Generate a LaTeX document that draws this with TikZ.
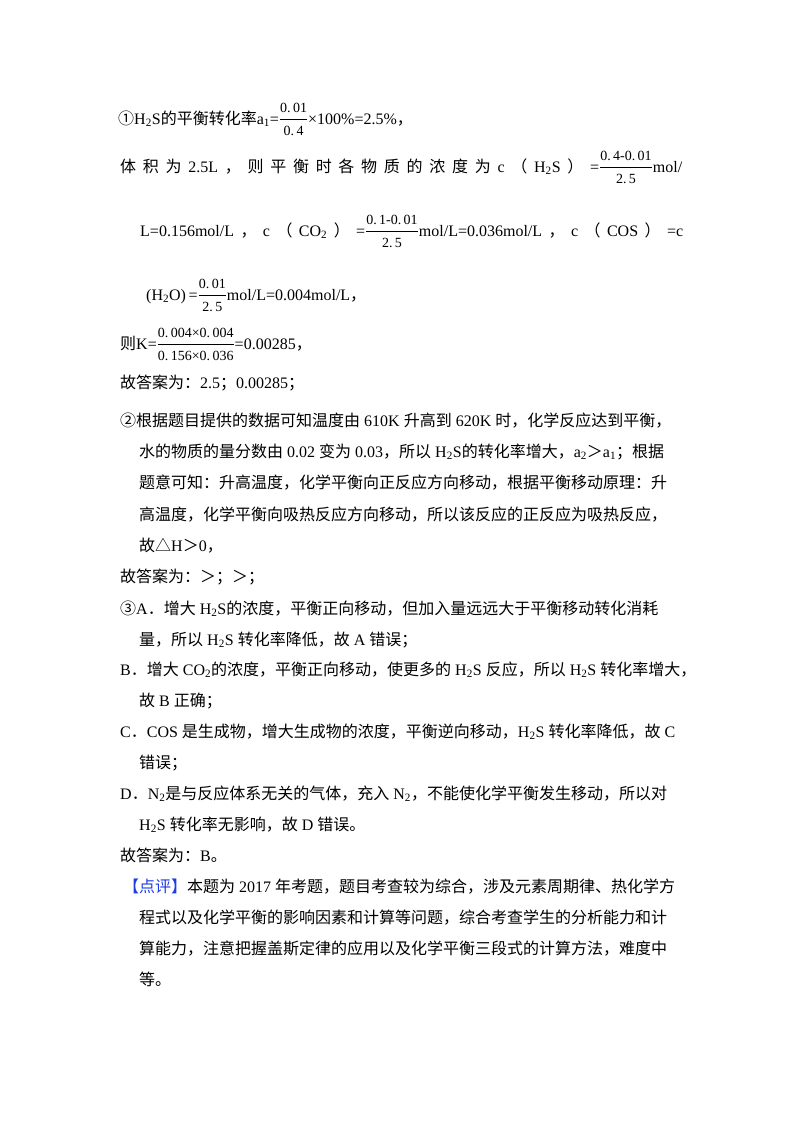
\documentclass[tikz,border=0pt]{standalone}
\usepackage{fontspec}
\setmainfont{Liberation Serif}
\newfontfamily\cjk{Noto Sans CJK SC}
\newcommand\zh[1]{{\cjk #1}}
\newcommand\sub[1]{\textsubscript{#1}}
\newcommand\fr[2]{$\displaystyle\frac{\mbox{\fontsize{14}{14}\selectfont #1}}{\mbox{\fontsize{14}{14}\selectfont #2}}$}
\definecolor{pblue}{RGB}{30,60,230}
\tikzset{ln/.style={anchor=base west,inner sep=0pt,font=\fontsize{16}{19}\selectfont}}
\begin{document}
\begin{tikzpicture}[x=1pt,y=-1pt]
\useasboundingbox (0,0) rectangle (800,1132);
\node[ln] (l1) at (118,124) {\zh{①}H\sub{2}S\zh{的平衡转化率}a\sub{1}=\fr{0.\,01}{0.\,4}×100\%=2.5\%\zh{，}};
\node[ln] (l2) at (120,172) {\hbox to 562pt{\zh{体}\hfill\zh{积}\hfill\zh{为}\hfill 2.5L\hfill\zh{，}\hfill\zh{则}\hfill\zh{平}\hfill\zh{衡}\hfill\zh{时}\hfill\zh{各}\hfill\zh{物}\hfill\zh{质}\hfill\zh{的}\hfill\zh{浓}\hfill\zh{度}\hfill\zh{为}\hfill c\hfill\zh{（}\hfill H\sub{2}S\hfill\zh{）}\hfill=\fr{0.\,4-0.\,01}{2.\,5}mol/}};
\node[ln] (l3) at (140,236) {\hbox to 543pt{L=0.156mol/L\hfill\zh{，}\hfill c\hfill\zh{（}\hfill CO\sub{2}\hfill\zh{）}\hfill=\fr{0.\,1-0.\,01}{2.\,5}mol/L=0.036mol/L\hfill\zh{，}\hfill c\hfill\zh{（}\hfill COS\hfill\zh{）}\hfill=c}};
\node[ln] (l4) at (146,300) {(H\sub{2}O)\,=\fr{0.\,01}{2.\,5}mol/L=0.004mol/L\zh{，}};
\node[ln] (l5) at (120,349) {\zh{则}K=\fr{0.\,004×0.\,004}{0.\,156×0.\,036}=0.00285\zh{，}};
\node[ln] (l6) at (120,388) {\zh{故答案为：}2.5\zh{；}0.00285\zh{；}};
\node[ln] (l7) at (120,426) {\zh{②根据题目提供的数据可知温度由} 610K \zh{升高到} 620K \zh{时，化学反应达到平衡，}};
\node[ln] (l8) at (139,457) {\zh{水的物质的量分数由} 0.02 \zh{变为} 0.03\zh{，所以} H\sub{2}S\zh{的转化率增大，}a\sub{2}\zh{＞}a\sub{1}\zh{；根据}};
\node[ln] (l9) at (139,488) {\zh{题意可知：升高温度，化学平衡向正反应方向移动，根据平衡移动原理：升}};
\node[ln] (l10) at (139,520) {\zh{高温度，化学平衡向吸热反应方向移动，所以该反应的正反应为吸热反应，}};
\node[ln] (l11) at (139,551) {\zh{故△}H\zh{＞}0\zh{，}};
\node[ln] (l12) at (120,582) {\zh{故答案为：＞；＞；}};
\node[ln] (l13) at (120,614) {\zh{③}A\zh{．增大} H\sub{2}S\zh{的浓度，平衡正向移动，但加入量远远大于平衡移动转化消耗}};
\node[ln] (l14) at (139,645) {\zh{量，所以} H\sub{2}S \zh{转化率降低，故} A \zh{错误；}};
\node[ln] (l15) at (120,675) {B\zh{．增大} CO\sub{2}\zh{的浓度，平衡正向移动，使更多的} H\sub{2}S \zh{反应，所以} H\sub{2}S \zh{转化率增大，}};
\node[ln] (l16) at (139,706) {\zh{故} B \zh{正确；}};
\node[ln] (l17) at (120,737) {C\zh{．}COS \zh{是生成物，增大生成物的浓度，平衡逆向移动，}H\sub{2}S \zh{转化率降低，故} C};
\node[ln] (l18) at (139,768) {\zh{错误；}};
\node[ln] (l19) at (120,799) {D\zh{．}N\sub{2}\zh{是与反应体系无关的气体，充入} N\sub{2}\zh{，不能使化学平衡发生移动，所以对}};
\node[ln] (l20) at (139,830) {H\sub{2}S \zh{转化率无影响，故} D \zh{错误。}};
\node[ln] (l21) at (120,861) {\zh{故答案为：}B\zh{。}};
\node[ln] (l22) at (123,892) {\textcolor{pblue}{\zh{【点评】}}\zh{本题为} 2017 \zh{年考题，题目考查较为综合，涉及元素周期律、热化学方}};
\node[ln] (l23) at (139,923) {\zh{程式以及化学平衡的影响因素和计算等问题，综合考查学生的分析能力和计}};
\node[ln] (l24) at (139,954) {\zh{算能力，注意把握盖斯定律的应用以及化学平衡三段式的计算方法，难度中}};
\node[ln] (l25) at (139,985) {\zh{等。}};
\end{tikzpicture}
\end{document}
